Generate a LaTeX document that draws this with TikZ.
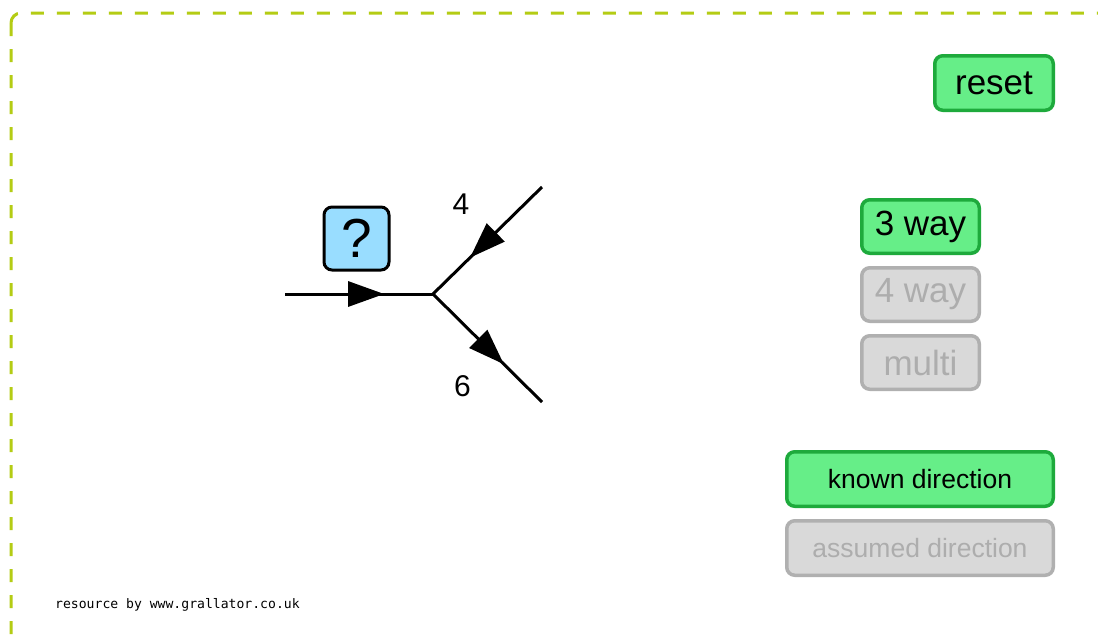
\documentclass[tikz,border=0pt]{standalone}
\usepackage{fontspec}
\setmainfont{Liberation Sans}
\newfontfamily\footmono{DejaVu Sans Mono}
\usetikzlibrary{arrows.meta,decorations.markings}
\definecolor{frameline}{HTML}{B4CC14}
\definecolor{btngreen}{HTML}{66EE88}
\definecolor{btngreenline}{HTML}{1EAA3C}
\definecolor{btngray}{HTML}{D9D9D9}
\definecolor{btngrayline}{HTML}{B0B0B0}
\definecolor{btngraytext}{HTML}{ADADAD}
\definecolor{qblue}{HTML}{99DDFF}
\tikzset{
  button/.style={draw, line width=3.5pt, rounded corners=8pt, inner sep=0pt, anchor=north west},
  onbtn/.style={button, fill=btngreen, draw=btngreenline, text=black},
  offbtn/.style={button, fill=btngray, draw=btngrayline, text=btngraytext},
  bigtxt/.style={font=\fontsize{35}{40}\selectfont},
  midtxt/.style={font=\fontsize{26.5}{31}\selectfont},
  flow/.style={line width=3pt, draw=black, postaction={decorate},
    decoration={markings, mark=at position #1 with {\arrow{Triangle[length=36pt,width=25pt]}}}},
  lbl/.style={font=\fontsize{30}{34}\selectfont, text=black}
}
\begin{document}
\begin{tikzpicture}[x=1pt,y=-1pt]
\useasboundingbox (0,0) rectangle (1098,640);
\fill[white] (0,0) rectangle (1098,640);
% dashed frame running off the right and bottom edges
\begin{scope}
\clip (0,0) rectangle (1098,640);
\draw[frameline, line width=3pt, dash pattern=on 13pt off 13pt, rounded corners=10pt]
  (11,13) rectangle (1140,680);
\end{scope}

% control buttons (anchored at the outer corner of each border)
\node[onbtn, bigtxt, minimum width=118.5pt, minimum height=54.5pt] (reset) at (933,54) {reset};
\node[onbtn, bigtxt, minimum width=117.5pt, minimum height=53.5pt] (three) at (860,198) {3 way};
\node[offbtn, bigtxt, minimum width=117.5pt, minimum height=53.5pt] (four) at (860,266) {4 way};
\node[offbtn, bigtxt, minimum width=117.5pt, minimum height=53.5pt] (multi) at (860,334) {multi};
\node[onbtn, midtxt, minimum width=266.5pt, minimum height=54.5pt] (known) at (785,450) {known direction};
\node[offbtn, midtxt, minimum width=266.5pt, minimum height=54.5pt] (assumed) at (785,519) {assumed direction};

% junction of three flows
\coordinate (in) at (285,294);
\coordinate (j) at (433,294);
\coordinate (ur) at (542,187);
\coordinate (lr) at (542,402);
\draw[flow=0.67] (in) -- (j);
\draw[flow=0.66] (ur) -- (j);
\draw[flow=0.65] (j) -- (lr);

\node[draw=black, line width=3pt, fill=qblue, rounded corners=8pt, minimum width=65pt, minimum height=63pt,
  inner sep=0pt, font=\fontsize{55}{60}\selectfont] (q) at (356.5,238.5) {?};
\node[lbl] (four lbl) at (461,204) {4};
\node[lbl] (six lbl) at (462.5,386) {6};

\node[anchor=west, font=\footmono\fontsize{13.1}{15}\selectfont, inner sep=0pt] (credit) at (55,604.5) {resource by www.grallator.co.uk};
\end{tikzpicture}
\end{document}
